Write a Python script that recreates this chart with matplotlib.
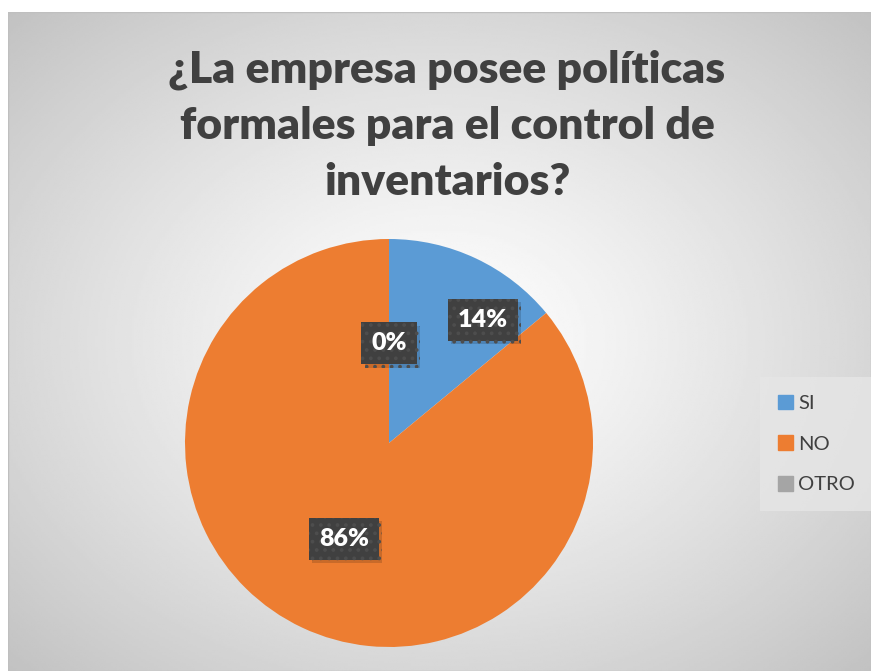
import matplotlib
matplotlib.use("Agg")
import matplotlib.pyplot as plt
import matplotlib.patches as mpatches
import matplotlib.patheffects as pe
import numpy as np

# datos
categorias = ["SI", "NO", "OTRO"]
porcentajes = [14, 86, 0]
colores = ["#5B9BD5", "#ED7D31", "#A5A5A5"]
titulo = "¿La empresa posee políticas\nformales para el control de\ninventarios?"

# ajustes de posicion de etiquetas (radio relativo, desfase de angulo en grados)
etq_radio = [0.76, 0.52, 0.49]
etq_desfase = [-12, 0, 0]

W, H = 871, 671
FONT = ["Lato", "DejaVu Sans"]
TXT = "#404040"

fig = plt.figure(figsize=(W / 100, H / 100), dpi=100)
fig.patch.set_facecolor("white")

# fondo con degradado radial
bg = fig.add_axes([8 / W, 0, (W - 8) / W, (H - 12) / H])
gx, gy = np.meshgrid(np.linspace(-1, 1, 400), np.linspace(-1, 1, 300))
dist = np.sqrt(gx ** 2 + gy ** 2) / np.sqrt(2)
val = 1 - 0.24 * np.clip(dist, 0, 1) ** 1.2
bg.imshow(val, cmap="gray", vmin=0, vmax=1, extent=[0, 1, 0, 1], aspect="auto")
bg.set_xlim(0, 1)
bg.set_ylim(0, 1)
bg.axis("off")
bg.add_patch(mpatches.Rectangle((0, 0), 1, 1, transform=bg.transAxes, fill=False,
                                edgecolor="#bfbfbf", linewidth=1))

# titulo
fig.text(447 / W, 1 - 126 / H, titulo, ha="center", va="center", fontsize=32,
         fontweight="heavy", color=TXT, linespacing=1.48, family=FONT)

# pastel
cx, cy, r = 389, 443, 204
ax = fig.add_axes([(cx - r) / W, (H - cy - r) / H, 2 * r / W, 2 * r / H])
wedges, _ = ax.pie(porcentajes, colors=colores, startangle=90, counterclock=False,
                   radius=1, wedgeprops=dict(linewidth=0))
ax.set_xlim(-1, 1)
ax.set_ylim(-1, 1)
ax.set_aspect("equal")

# etiquetas de porcentaje con caja oscura y sombra
plt.rcParams["hatch.linewidth"] = 1.5
for w, pct, rr, dd in zip(wedges, porcentajes, etq_radio, etq_desfase):
    ang = np.deg2rad((w.theta1 + w.theta2) / 2 + dd)
    x, y = rr * np.cos(ang), rr * np.sin(ang)
    t = ax.text(x, y, f"{pct}%", ha="center", va="center", fontsize=18,
                fontweight="heavy", color="white", family=FONT, zorder=5,
                bbox=dict(boxstyle="square,pad=0.4", facecolor="#404040",
                          edgecolor="#4d4d4d", hatch="..", linewidth=0))
    t.get_bbox_patch().set_path_effects([
        pe.SimplePatchShadow(offset=(2.5, -2.5), shadow_rgbFace="black", alpha=0.15),
        pe.Normal(),
    ])

# leyenda
handles = [mpatches.Patch(color=c, label=l) for c, l in zip(colores, categorias)]
leg = fig.legend(handles=handles, loc="center left", bbox_to_anchor=(766 / W, 1 - 444 / H),
                 frameon=True, handlelength=0.75, handleheight=0.75,
                 handletextpad=0.25, labelspacing=1.15, borderpad=0.6, borderaxespad=0,
                 prop=dict(family=FONT, size=14.5))
leg.get_frame().set_facecolor("#e6e6e6")
leg.get_frame().set_edgecolor("none")
leg.get_frame().set_boxstyle("square")
for t in leg.get_texts():
    t.set_color(TXT)

fig.savefig("out.png", dpi=100)
